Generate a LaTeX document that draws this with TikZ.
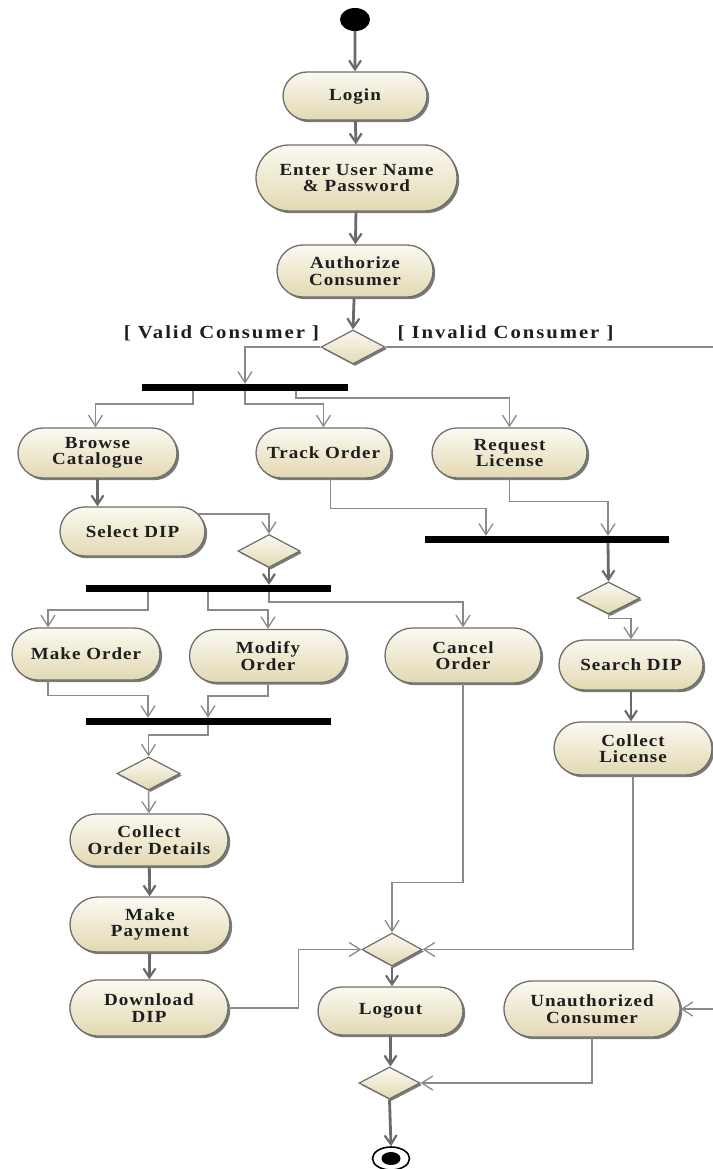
\documentclass[tikz,border=0pt]{standalone}
\usepackage{fontspec}
\newfontfamily\lblfont[FakeStretch=1.12,LetterSpace=6]{Liberation Serif}
\newfontfamily\guardfont[FakeStretch=1.12,LetterSpace=10.5]{Liberation Serif}
\usetikzlibrary{arrows.meta,shapes.misc,shapes.geometric,shadows,calc}
\definecolor{wire}{HTML}{8A8A8A}
\definecolor{flowgray}{HTML}{6A6A6A}
\definecolor{rim}{HTML}{6E6E6E}
\definecolor{creamtop}{HTML}{FBFAF2}
\definecolor{creambot}{HTML}{E2D8B2}
\definecolor{ink}{HTML}{1E1E1E}
\begin{document}
\begin{tikzpicture}[x=1pt,y=-1pt,
  txt/.style={font=\lblfont\bfseries\fontsize{17}{16.5}\selectfont, text=ink, align=center},
  guard/.style={font=\guardfont\bfseries\fontsize{18.5}{18}\selectfont, text=ink},
  act/.style={txt, rounded rectangle, draw=rim, line width=1.3pt,
    top color=creamtop, bottom color=creambot, inner sep=0pt,
    drop shadow={shadow xshift=2.2pt,shadow yshift=-2.2pt,fill=black!65,opacity=.8}},
  dims/.style 2 args={minimum width=#1pt, minimum height=#2pt},
  choice/.style={diamond, aspect=1.9, draw=rim, line width=1.2pt,
    top color=creamtop, bottom color=creambot, inner sep=0pt,
    drop shadow={shadow xshift=2pt,shadow yshift=-2pt,fill=black!65,opacity=.8}},
  bar/.style={fill=black, inner sep=0pt},
  link/.style={draw=wire, line width=1.5pt, -{Straight Barb[length=11pt,width=14pt,line width=1.3pt]}},
  flow/.style={draw=flowgray, line width=2.8pt, -{Straight Barb[length=9pt,width=12pt,line width=2.2pt]}},
]
\useasboundingbox (0,0) rectangle (712,1169);

% initial and final nodes
\node[ellipse, fill=black, inner sep=0pt, dims={30}{23}] (start) at (355,19.5) {};
\node[ellipse, draw=black, fill=white, line width=1.6pt, inner sep=0pt, dims={37}{23}] (end) at (391,1158.5) {};
\node[ellipse, fill=black, inner sep=0pt, dims={19}{13}] (endDot) at (end.center) {};

% actions
\node[act, dims={144}{48}] (login) at (355,96) {Login};
\node[act, dims={201}{66}] (enter) at (356.5,178) {Enter User Name\\\& Password};
\node[act, dims={156}{52}] (auth) at (355,271) {Authorize\\Consumer};
\node[act, dims={159}{50}] (browse) at (97.5,453) {Browse\\Catalogue};
\node[act, dims={135}{50}] (track) at (323.5,453) {Track Order};
\node[act, dims={155}{50}] (request) at (509.5,453) {Request\\License};
\node[act, dims={145}{49}] (selectdip) at (132.5,531.5) {Select DIP};
\node[act, dims={148}{52}] (makeorder) at (86,654) {Make Order};
\node[act, dims={157}{53}] (modify) at (268,656) {Modify\\Order};
\node[act, dims={156}{55}] (cancel) at (463,655.5) {Cancel\\Order};
\node[act, dims={144}{50}] (search) at (631,665) {Search DIP};
\node[act, dims={158}{53}] (collectlic) at (633,748.5) {Collect\\License};
\node[act, dims={158}{52}] (collectord) at (149,840) {Collect\\Order Details};
\node[act, dims={160}{55}] (payment) at (150,924.5) {Make\\Payment};
\node[act, dims={158}{56}] (download) at (149,1008) {Download\\DIP};
\node[act, dims={145}{48}] (logout) at (390.5,1011) {Logout};
\node[act, dims={176}{56}] (unauth) at (592,1009) {Unauthorized\\Consumer};

% decisions and merges
\node[choice, dims={64}{34}] (d1) at (353,347) {};
\node[choice, dims={62}{33}] (d2) at (269,551) {};
\node[choice, dims={63}{33}] (d3) at (148.5,773.5) {};
\node[choice, dims={60}{33}] (d4) at (392,949.5) {};
\node[choice, dims={61}{32}] (d5) at (389.5,1083) {};
\node[choice, dims={63}{32}] (d6) at (608.5,598) {};

% fork / join bars
\node[bar, dims={206}{7}] (bar1) at (245,387.5) {};
\node[bar, dims={245}{7}] (bar2) at (208.5,588.5) {};
\node[bar, dims={245}{7}] (bar3) at (208.5,721.5) {};
\node[bar, dims={244}{7}] (bar4) at (547,539.5) {};

% guards
\node[guard] (validlbl) at (221.5,333) {[ Valid Consumer ]};
\node[guard] (invalidlbl) at (505.5,333) {[ Invalid Consumer ]};

\coordinate (rimline) at (714,0);

% main flow
\draw[flow] (start) -- (login);
\draw[flow] (login) -- (enter);
\draw[flow] (enter) -- (auth);
\draw[flow] (auth) -- (d1.north);
\draw[flow] (browse.south) -- (browse.south |- selectdip.north);
\draw[flow] (d2.south) -- (d2.south |- bar2.north);
\draw[flow] ([xshift=61pt]bar4.south) -- (d6.north);
\draw[flow] (search.south) -- (search.south |- collectlic.north);
\draw[flow] (collectord) -- (payment);
\draw[flow] (payment) -- (download);
\draw[flow] (d4.south) -- (d4.south |- logout.north);
\draw[flow] (logout.south) -- (logout.south |- d5.north);
\draw[flow] (d5.south) -- (end.north);

% guarded branches
\draw[link] (d1.west) -| (bar1.north);
\draw[link] (d1.east) -| (rimline |- unauth.east) -- (unauth.east);

% first fork
\draw[link] ([xshift=-52pt]bar1.south) -- ++(0,13) -| ([xshift=-2pt]browse.north);
\draw[link] (bar1.south) -- ++(0,13) -| (track.north);
\draw[link] ([xshift=51pt]bar1.south) -- ++(0,7) -| (request.north);

% licence path
\draw[link] ([xshift=7pt]track.south) -- ++(0,30) -| ([xshift=-61pt]bar4.north);
\draw[link] (request.south) -- ++(0,23) -| ([xshift=61pt]bar4.north);
\draw[link] (d6.south) -- ++(0,4) -| (search.north);
\draw[link] (collectlic.south) |- (d4.east);

% order path
\draw[link] (selectdip.15) -| (d2.north);
\draw[link] ([xshift=-60.5pt]bar2.south) -- ++(0,18) -| ([xshift=-38pt]makeorder.north);
\draw[link] ([xshift=-0.5pt]bar2.south) -- ++(0,18) -| (modify.north);
\draw[link] ([xshift=60.5pt]bar2.south) -- ++(0,10) -| (cancel.north);
\draw[link] ([xshift=-38pt]makeorder.south) -- ++(0,15) -| ([xshift=-60.5pt]bar3.north);
\draw[link] (modify.south) -- ++(0,13) -| ([xshift=-0.5pt]bar3.north);
\draw[link] ([xshift=-0.5pt]bar3.south) -- ++(0,10) -| (d3.north);
\draw[link] (d3.south) -- (collectord.north);

% merges into logout
\draw[link] (cancel.south) -- ++(0,199) -| (d4.north);
\draw[link] (download.east) -- ++(70,0) |- (d4.west);
\draw[link] (unauth.south) |- (d5.east);
\end{tikzpicture}
\end{document}
